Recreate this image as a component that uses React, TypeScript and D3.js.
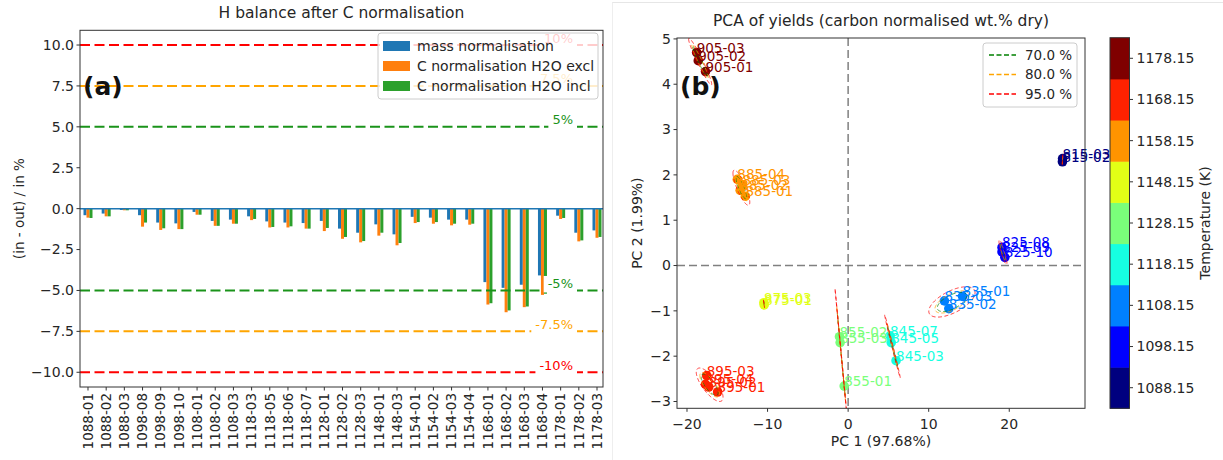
import React, { useEffect, useRef } from 'react';
import * as d3 from 'd3';

// ---------- Panel (a): H balance ----------
const categories = [
  '1088-01', '1088-02', '1088-03', '1098-08', '1098-09', '1098-10', '1108-01', '1108-02', '1108-03',
  '1118-03', '1118-05', '1118-06', '1118-07', '1128-01', '1128-02', '1128-03', '1148-01', '1148-03',
  '1154-01', '1154-02', '1154-03', '1154-04', '1168-01', '1168-02', '1168-03', '1168-04', '1178-01',
  '1178-02', '1178-03',
];
const massNormalisation = [
  -0.40, -0.30, -0.08, -0.40, -0.85, -0.90, -0.20, -0.75, -0.67, -0.47, -0.78, -0.85, -0.88, -0.75,
  -1.22, -1.47, -0.96, -1.57, -0.50, -0.55, -0.67, -0.67, -4.49, -4.84, -4.65, -4.08, -0.43, -1.47, -1.33,
];
const cNormH2OExcl = [
  -0.55, -0.47, -0.10, -1.10, -1.30, -1.25, -0.37, -1.05, -0.92, -0.70, -1.15, -1.15, -1.22, -1.37,
  -1.84, -2.06, -1.65, -2.24, -0.88, -0.92, -1.02, -0.98, -5.86, -6.33, -6.02, -5.27, -0.63, -2.00, -1.78,
];
const cNormH2OIncl = [
  -0.57, -0.47, -0.10, -0.85, -1.20, -1.25, -0.37, -1.05, -0.92, -0.63, -1.12, -1.08, -1.22, -1.18,
  -1.73, -1.98, -1.47, -2.10, -0.82, -0.82, -0.92, -0.92, -5.78, -6.22, -5.98, -5.20, -0.57, -1.94, -1.73,
];
const seriesNames = ['mass normalisation', 'C normalisation H2O excl', 'C normalisation H2O incl'];
const yTicksA = [10, 7.5, 5, 2.5, 0, -2.5, -5, -7.5, -10];
const refValues = [10, 7.5, 5, -5, -7.5, -10];
const refLabels = ['10%', '7.5%', '5%', '-5%', '-7.5%', '-10%'];

// ---------- Panel (b): PCA ----------
const sampleIds = [
  '905-03', '905-02', '905-01',
  '885-04', '885-03', '885-02', '885-01',
  '895-03', '895-04', '895-02', '895-01',
  '875-03', '875-01',
  '855-02', '855-03', '855-01',
  '845-07', '845-05', '845-03',
  '835-03', '835-02', '835-01',
  '825-08', '825-09', '825-10',
  '815-03', '815-02',
];
const pc1 = [
  -18.8, -18.6, -17.7,
  -13.75, -13.1, -13.4, -12.75,
  -17.55, -17.7, -17.3, -16.2,
  -10.46, -10.42,
  -1.07, -0.99, -0.49,
  5.2, 5.35, 5.95,
  11.95, 12.5, 14.2,
  19.1, 19.1, 19.45,
  26.62, 26.6,
];
const pc2 = [
  4.70, 4.52, 4.28,
  1.90, 1.78, 1.66, 1.53,
  -2.43, -2.62, -2.68, -2.79,
  -0.82, -0.87,
  -1.57, -1.70, -2.66,
  -1.55, -1.70, -2.10,
  -0.78, -0.95, -0.68,
  0.40, 0.30, 0.18,
  2.36, 2.29,
];
const sampleTemps = [
  1178.15, 1178.15, 1178.15,
  1158.15, 1158.15, 1158.15, 1158.15,
  1168.15, 1168.15, 1168.15, 1168.15,
  1148.15, 1148.15,
  1128.15, 1128.15, 1128.15,
  1118.15, 1118.15, 1118.15,
  1108.15, 1108.15, 1108.15,
  1098.15, 1098.15, 1098.15,
  1088.15, 1088.15,
];
const tempLevels = [1088.15, 1098.15, 1108.15, 1118.15, 1128.15, 1148.15, 1158.15, 1168.15, 1178.15];
const tempColors = ['#00007f', '#0000ff', '#0080ff', '#16ffe1', '#7aff7a', '#e2ff16', '#ff9400', '#ff2200', '#7f0000'];
const confLevels = [0.7, 0.8, 0.95];
const confColors = ['#008000', '#ffa500', '#ff0000'];
const xTicksB = [-20, -10, 0, 10, 20];
const yTicksB = [5, 4, 3, 2, 1, 0, -1, -2, -3];

const FONT = '"DejaVu Sans", sans-serif';
const TXT = '#262626';
const fmtMinus = (s: string) => s.replace('-', '\u2212');

export default function App() {
  const ref = useRef<SVGSVGElement>(null);

  useEffect(() => {
    const svg = d3.select(ref.current);
    svg.selectAll('*').remove();
    svg.append('rect').attr('width', 1223).attr('height', 460).attr('fill', '#fff');

    // faint panel border on right image
    svg.append('line').attr('x1', 612).attr('x2', 1223).attr('y1', 2.5).attr('y2', 2.5).attr('stroke', '#e6e6e6');
    svg.append('line').attr('x1', 612.5).attr('x2', 612.5).attr('y1', 2.5).attr('y2', 460).attr('stroke', '#eeeeee');

    // ================= Panel A =================
    const A = { l: 80, r: 603, t: 30.3, b: 387 };
    const xA = d3.scaleLinear().domain([-0.44, 28.33]).range([A.l, A.r]);
    const yA = d3.scaleLinear().domain([-10.9, 10.9]).range([A.b, A.t]);
    const gA = svg.append('g');
    const barW = 0.165;
    const seriesColors = ['#1f77b4', '#ff7f0e', '#2ca02c'];
    [massNormalisation, cNormH2OExcl, cNormH2OIncl].forEach((vals, si) => {
      gA.selectAll(null).data(vals).enter().append('rect')
        .attr('x', (_d, i) => xA(i + (si - 1.5) * barW))
        .attr('width', xA(barW) - xA(0))
        .attr('y', (d) => yA(Math.max(0, d)))
        .attr('height', (d) => Math.abs(yA(d) - yA(0)))
        .attr('fill', seriesColors[si]);
    });
    // zero line
    gA.append('line').attr('x1', A.l).attr('x2', A.r).attr('y1', yA(0)).attr('y2', yA(0))
      .attr('stroke', '#1f77b4').attr('stroke-width', 1.5);

    const refColor = (v: number) => (Math.abs(v) === 10 ? '#ff0000' : Math.abs(v) === 7.5 ? '#ffa500' : '#1a931a');
    refValues.forEach((v) => {
      gA.append('line').attr('x1', A.l).attr('x2', A.r).attr('y1', yA(v)).attr('y2', yA(v))
        .attr('stroke', refColor(v)).attr('stroke-width', 2).attr('stroke-dasharray', '10,4.5');
    });
    refValues.forEach((v, i) => {
      const t = gA.append('text').attr('x', 573).attr('y', yA(v) - 2.5)
        .attr('text-anchor', 'end').attr('font-family', FONT).attr('font-size', 13)
        .attr('fill', refColor(v)).text(refLabels[i]);
      const bb = (t.node() as SVGTextElement).getBBox();
      gA.insert('rect', () => t.node() as any)
        .attr('x', bb.x - 4).attr('y', bb.y).attr('width', bb.width + 8).attr('height', yA(v) + 2 - bb.y)
        .attr('fill', '#fff');
    });

    // spines
    gA.append('rect').attr('x', A.l).attr('y', A.t).attr('width', A.r - A.l).attr('height', A.b - A.t)
      .attr('fill', 'none').attr('stroke', '#333').attr('stroke-width', 1);
    // y ticks
    yTicksA.forEach((v) => {
      gA.append('line').attr('x1', A.l - 3.5).attr('x2', A.l).attr('y1', yA(v)).attr('y2', yA(v)).attr('stroke', '#333');
      gA.append('text').attr('x', A.l - 6).attr('y', yA(v)).attr('dy', '0.35em')
        .attr('text-anchor', 'end').attr('font-family', FONT).attr('font-size', 14).attr('fill', TXT)
        .text(fmtMinus(d3.format('.1f')(v)));
    });
    // x ticks
    categories.forEach((c, i) => {
      const x = xA(i);
      gA.append('line').attr('x1', x).attr('x2', x).attr('y1', A.b).attr('y2', A.b + 3.5).attr('stroke', '#333');
      gA.append('text').attr('transform', `translate(${x},${A.b + 6}) rotate(-90)`).attr('dy', '0.35em')
        .attr('text-anchor', 'end').attr('font-family', FONT).attr('font-size', 13.5).attr('fill', TXT).text(c);
    });
    // title & axis label
    gA.append('text').attr('x', (A.l + A.r) / 2).attr('y', 18).attr('text-anchor', 'middle')
      .attr('font-family', FONT).attr('font-size', 15.5).attr('fill', TXT).text('H balance after C normalisation');
    gA.append('text').attr('transform', `translate(19,${(A.t + A.b) / 2}) rotate(-90)`).attr('dy', '0.35em')
      .attr('text-anchor', 'middle').attr('font-family', FONT).attr('font-size', 13.5).attr('fill', TXT)
      .text('(in - out) / in %');

    // legend A
    const LA = { x: 378, y: 33, w: 220, h: 66 };
    gA.append('rect').attr('x', LA.x).attr('y', LA.y).attr('width', LA.w).attr('height', LA.h).attr('rx', 3)
      .attr('fill', '#fff').attr('fill-opacity', 0.8).attr('stroke', '#cccccc');
    seriesNames.forEach((n, i) => {
      const cy = LA.y + 13 + i * 20;
      gA.append('rect').attr('x', LA.x + 5).attr('y', cy - 5).attr('width', 27).attr('height', 10).attr('fill', seriesColors[i]);
      gA.append('text').attr('x', LA.x + 39).attr('y', cy).attr('dy', '0.35em').attr('font-family', FONT)
        .attr('font-size', 14).attr('fill', TXT).text(n);
    });
    gA.append('text').attr('x', 83).attr('y', 95).attr('font-family', FONT).attr('font-size', 25)
      .attr('font-weight', 'bold').attr('fill', '#111').text('(a)');

    // ================= Panel B =================
    const B = { l: 677, r: 1085, t: 38, b: 408.3 };
    const xB = d3.scaleLinear().domain([-21.24, 29.4]).range([B.l, B.r]);
    const yB = d3.scaleLinear().domain([-3.15, 5.02]).range([B.b, B.t]);
    const gB = svg.append('g');
    const clipId = 'clipB';
    svg.append('defs').append('clipPath').attr('id', clipId).append('rect')
      .attr('x', B.l).attr('y', B.t).attr('width', B.r - B.l).attr('height', B.b - B.t);

    gB.append('line').attr('x1', xB(0)).attr('x2', xB(0)).attr('y1', B.t).attr('y2', B.b)
      .attr('stroke', '#808080').attr('stroke-width', 1.5).attr('stroke-dasharray', '8,4');
    gB.append('line').attr('x1', B.l).attr('x2', B.r).attr('y1', yB(0)).attr('y2', yB(0))
      .attr('stroke', '#808080').attr('stroke-width', 1.5).attr('stroke-dasharray', '8,4');

    const colorOf = (t: number) => tempColors[tempLevels.indexOf(t)];
    const idx = d3.range(sampleIds.length);
    // points
    gB.selectAll(null).data(idx).enter().append('circle')
      .attr('cx', (i) => xB(pc1[i])).attr('cy', (i) => yB(pc2[i])).attr('r', 4.8)
      .attr('fill', (i) => colorOf(sampleTemps[i]));

    // confidence ellipses per temperature group
    const ellG = gB.append('g').attr('clip-path', `url(#${clipId})`);
    tempLevels.forEach((t) => {
      const pts = idx.filter((i) => sampleTemps[i] === t).map((i) => [pc1[i], pc2[i]] as [number, number]);
      if (pts.length < 2) return;
      const n = pts.length;
      const mx = d3.mean(pts, (p) => p[0]) as number;
      const my = d3.mean(pts, (p) => p[1]) as number;
      let sxx = 0, syy = 0, sxy = 0;
      pts.forEach(([a, b]) => { sxx += (a - mx) ** 2; syy += (b - my) ** 2; sxy += (a - mx) * (b - my); });
      sxx /= n - 1; syy /= n - 1; sxy /= n - 1;
      const tr = sxx + syy, det = sxx * syy - sxy * sxy;
      const disc = Math.sqrt(Math.max(0, (tr * tr) / 4 - det));
      const l1 = tr / 2 + disc, l2 = Math.max(0, tr / 2 - disc);
      const theta = Math.abs(sxy) < 1e-12 ? (sxx >= syy ? 0 : Math.PI / 2) : Math.atan2(l1 - sxx, sxy);
      confLevels.forEach((c, ci) => {
        const k = Math.sqrt(-2 * Math.log(1 - c));
        const a = k * Math.sqrt(l1), b = k * Math.sqrt(l2);
        const path = d3.range(0, 361, 3).map((deg) => {
          const u = (deg * Math.PI) / 180;
          const ex = a * Math.cos(u), ey = b * Math.sin(u);
          return [xB(mx + ex * Math.cos(theta) - ey * Math.sin(theta)), yB(my + ex * Math.sin(theta) + ey * Math.cos(theta))] as [number, number];
        });
        ellG.append('path').attr('d', d3.line()(path) as string).attr('fill', 'none')
          .attr('stroke', confColors[ci]).attr('stroke-width', 1).attr('stroke-opacity', 0.75)
          .attr('stroke-dasharray', '4,2.5');
      });
    });

    // labels
    gB.selectAll(null).data(idx).enter().append('text')
      .attr('x', (i) => xB(pc1[i])).attr('y', (i) => yB(pc2[i]))
      .attr('font-family', FONT).attr('font-size', 13.5).attr('fill', (i) => colorOf(sampleTemps[i]))
      .text((i) => sampleIds[i]);

    // spines
    gB.append('rect').attr('x', B.l).attr('y', B.t).attr('width', B.r - B.l).attr('height', B.b - B.t)
      .attr('fill', 'none').attr('stroke', '#333').attr('stroke-width', 1);
    xTicksB.forEach((v) => {
      gB.append('line').attr('x1', xB(v)).attr('x2', xB(v)).attr('y1', B.b).attr('y2', B.b + 3.5).attr('stroke', '#333');
      gB.append('text').attr('x', xB(v)).attr('y', 429).attr('text-anchor', 'middle').attr('font-family', FONT)
        .attr('font-size', 14).attr('fill', TXT).text(fmtMinus(String(v)));
    });
    yTicksB.forEach((v) => {
      gB.append('line').attr('x1', B.l - 3.5).attr('x2', B.l).attr('y1', yB(v)).attr('y2', yB(v)).attr('stroke', '#333');
      gB.append('text').attr('x', B.l - 6).attr('y', yB(v)).attr('dy', '0.35em').attr('text-anchor', 'end')
        .attr('font-family', FONT).attr('font-size', 14).attr('fill', TXT).text(fmtMinus(String(v)));
    });
    gB.append('text').attr('x', (B.l + B.r) / 2).attr('y', 26).attr('text-anchor', 'middle')
      .attr('font-family', FONT).attr('font-size', 15.5).attr('fill', TXT)
      .text('PCA of yields (carbon normalised wt.% dry)');
    gB.append('text').attr('x', (B.l + B.r) / 2).attr('y', 446).attr('text-anchor', 'middle')
      .attr('font-family', FONT).attr('font-size', 14).attr('fill', TXT).text('PC 1 (97.68%)');
    gB.append('text').attr('transform', `translate(637,${(B.t + B.b) / 2}) rotate(-90)`).attr('dy', '0.35em')
      .attr('text-anchor', 'middle').attr('font-family', FONT).attr('font-size', 14).attr('fill', TXT)
      .text('PC 2 (1.99%)');

    // legend B
    const LB = { x: 983, y: 43, w: 94, h: 64 };
    gB.append('rect').attr('x', LB.x).attr('y', LB.y).attr('width', LB.w).attr('height', LB.h).attr('rx', 3)
      .attr('fill', '#fff').attr('fill-opacity', 0.8).attr('stroke', '#cccccc');
    confLevels.forEach((c, i) => {
      const cy = LB.y + 12 + i * 19.5;
      gB.append('line').attr('x1', LB.x + 6).attr('x2', LB.x + 33).attr('y1', cy).attr('y2', cy)
        .attr('stroke', confColors[i]).attr('stroke-width', 1.6).attr('stroke-dasharray', '5,2.5');
      gB.append('text').attr('x', LB.x + 42).attr('y', cy).attr('dy', '0.35em').attr('font-family', FONT)
        .attr('font-size', 13.5).attr('fill', TXT).text(`${(c * 100).toFixed(1)} %`);
    });
    gB.append('text').attr('x', 680).attr('y', 95).attr('font-family', FONT).attr('font-size', 25)
      .attr('font-weight', 'bold').attr('fill', '#111').text('(b)');

    // colorbar
    const CB = { x: 1110, w: 19.5, t: 37.7, b: 408.3 };
    const yC = d3.scaleBand<number>().domain(d3.range(tempLevels.length)).range([CB.b, CB.t]);
    const gC = svg.append('g');
    tempLevels.forEach((t, i) => {
      gC.append('rect').attr('x', CB.x).attr('y', yC(i) as number).attr('width', CB.w).attr('height', yC.bandwidth() + 0.5)
        .attr('fill', tempColors[i]);
      const cy = (yC(i) as number) + yC.bandwidth() / 2;
      gC.append('line').attr('x1', CB.x + CB.w).attr('x2', CB.x + CB.w + 3.5).attr('y1', cy).attr('y2', cy).attr('stroke', '#333');
      gC.append('text').attr('x', CB.x + CB.w + 7).attr('y', cy).attr('dy', '0.35em').attr('font-family', FONT)
        .attr('font-size', 14).attr('fill', TXT).text(t.toFixed(2));
    });
    gC.append('rect').attr('x', CB.x).attr('y', CB.t).attr('width', CB.w).attr('height', CB.b - CB.t)
      .attr('fill', 'none').attr('stroke', '#333').attr('stroke-width', 1);
    gC.append('text').attr('transform', `translate(1205,${(CB.t + CB.b) / 2}) rotate(-90)`).attr('dy', '0.35em')
      .attr('text-anchor', 'middle').attr('font-family', FONT).attr('font-size', 14).attr('fill', TXT)
      .text('Temperature (K)');
  }, []);

  return (
    <svg ref={ref} width={1223} height={460} style={{ position: 'absolute', left: 0, top: 0, display: 'block' }} />
  );
}
